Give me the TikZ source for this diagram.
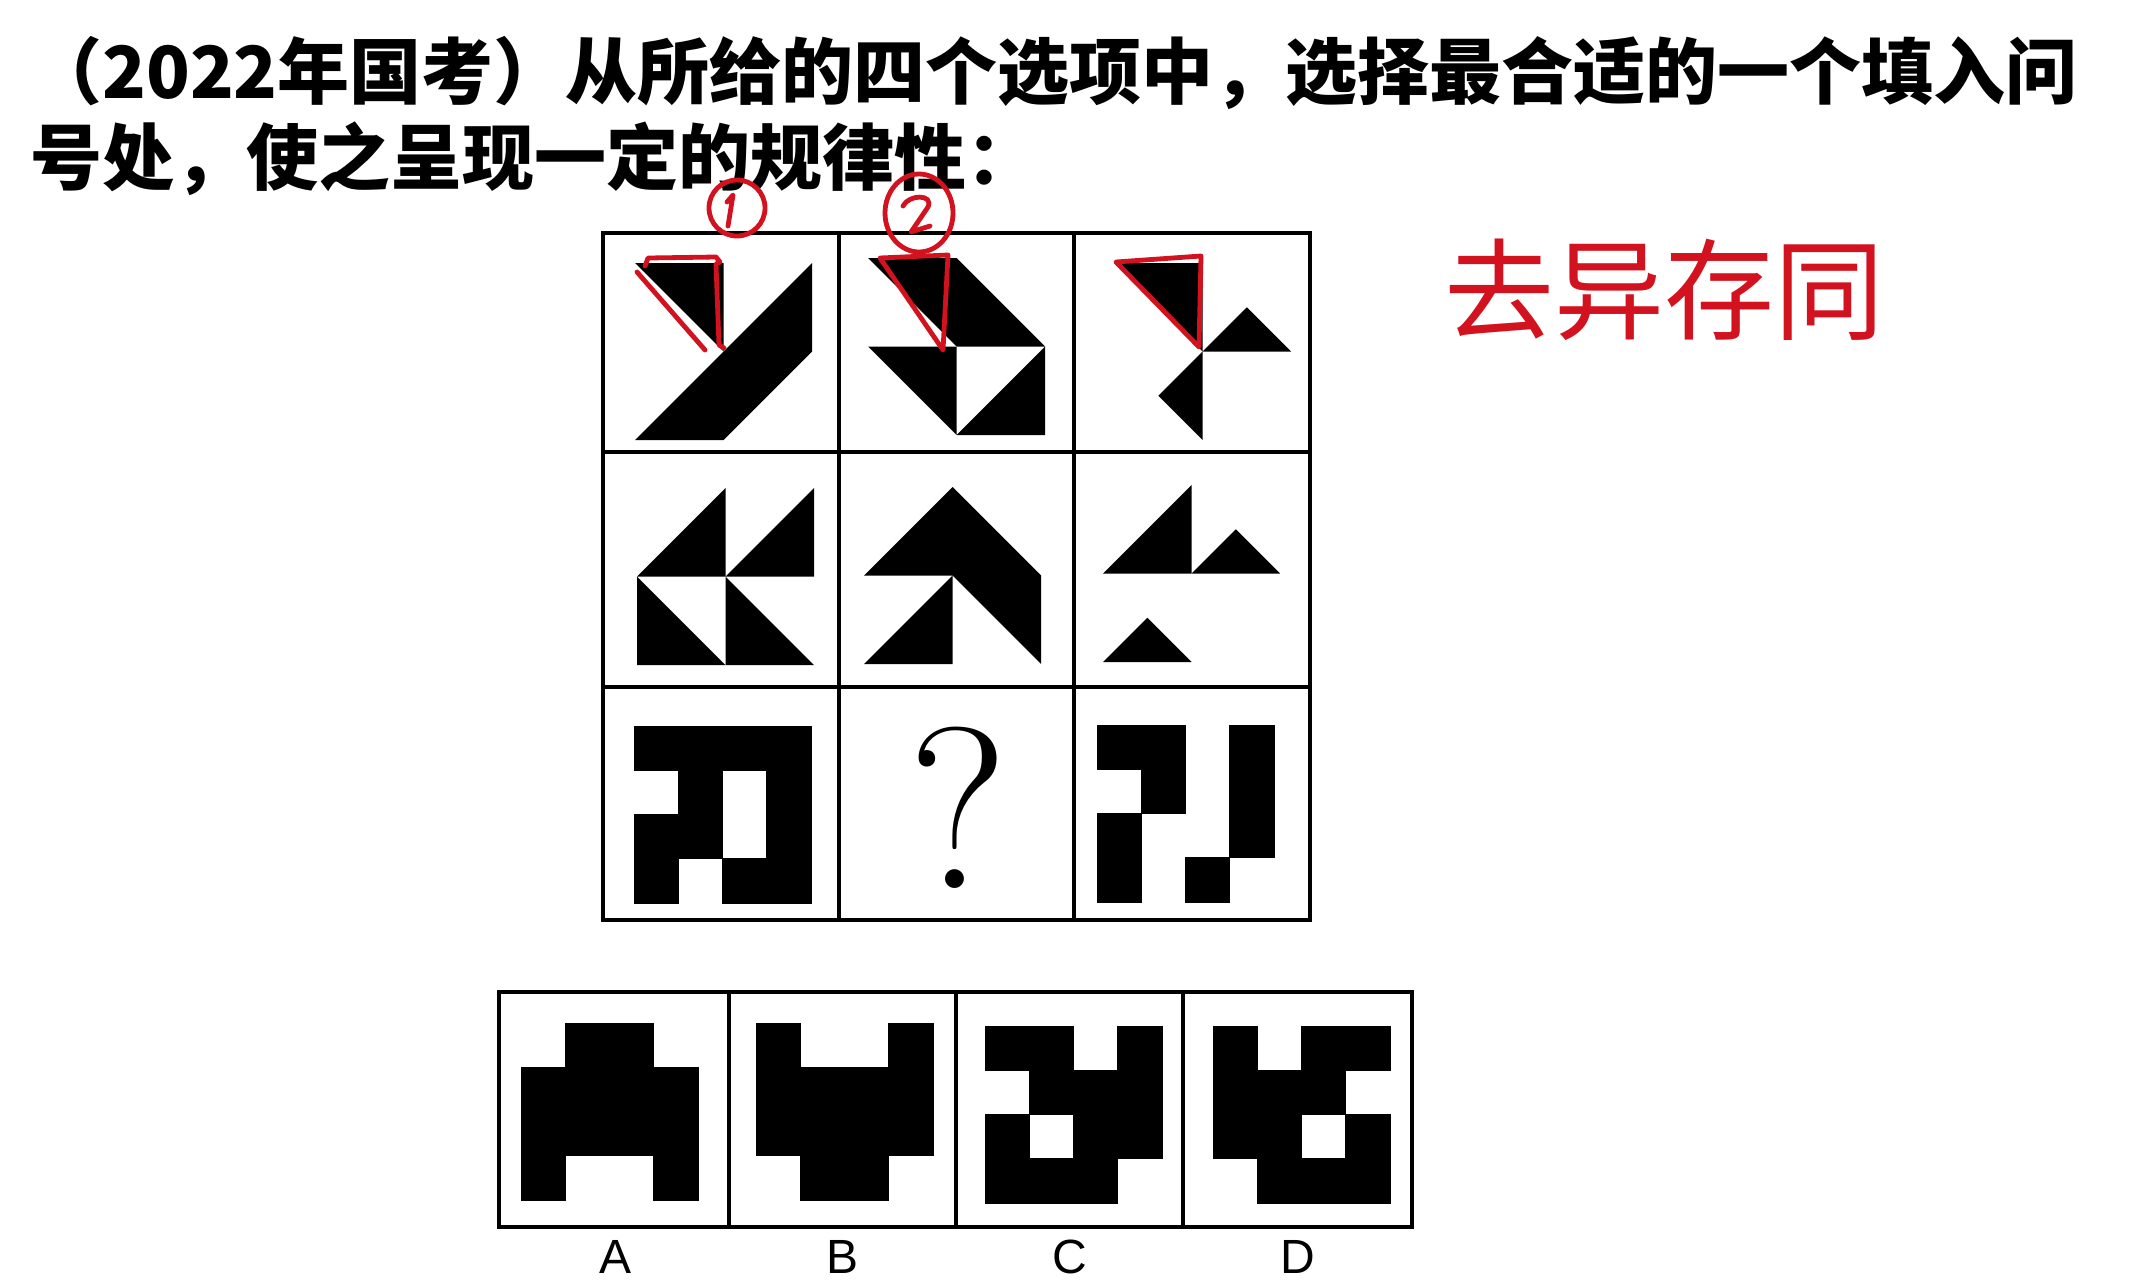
\documentclass[tikz,border=0pt]{standalone}
\usepackage{fontspec}
\usepackage{tikz}
\usetikzlibrary{positioning}
\newfontfamily\cjk{Noto Sans CJK SC}
\newfontfamily\optfont{Liberation Sans}
\definecolor{penred}{RGB}{210,18,30}
\tikzset{
  gridline/.style={draw=black, line width=1.8pt},
  penline/.style={draw=penred, line width=2.4pt, line cap=round, line join=round},
  pix/.style={fill=black, draw=black, line width=0.4pt},
  blockat/.style={shift={#1}, x=44.25pt, y=44.25pt},
}

\begin{document}
\begin{tikzpicture}[x=0.5pt,y=-0.5pt]
  % page
  \fill[white] (0,0) rectangle (2156,1286);
  \useasboundingbox (0,0) rectangle (2156,1286);
  \clip (0,0) rectangle (2156,1286);

  % question text
  \node[anchor=base west, inner sep=0, font=\cjk\bfseries\fontsize{36}{36}\selectfont] (line1) at (30,98)
    {（2022年国考）从所给的四个选项中，选择最合适的一个填入问};
  \node[anchor=base west, inner sep=0, font=\cjk\bfseries\fontsize{36}{36}\selectfont] (line2) at (30,184)
    {号处，使之呈现一定的规律性：};

  % 3x3 grid
  \draw[gridline] (603,233) rectangle (1310,920);
  \draw[gridline] (839,233) -- (839,920);
  \draw[gridline] (1074,233) -- (1074,920);
  \draw[gridline] (603,452) -- (1310,452);
  \draw[gridline] (603,687) -- (1310,687);

  % row 1
  \begin{scope}[blockat={(635,440)}]
    \fill (0,2) -- (1,2) -- (1,1) -- cycle;
    \fill (0,0) -- (1,0) -- (2,1) -- (2,2) -- cycle;
  \end{scope}
  \begin{scope}[blockat={(868,435)}]
    \fill (0,2) -- (1,2) -- (2,1) -- (1,1) -- cycle;
    \fill (0,1) -- (1,1) -- (1,0) -- cycle;
    \fill (2,1) -- (2,0) -- (1,0) -- cycle;
  \end{scope}
  \begin{scope}[blockat={(1114,440)}]
    \fill (0,2) -- (1,2) -- (1,1) -- cycle;
    \fill (1,1) -- (1.5,1.5) -- (2,1) -- cycle;
    \fill (1,1) -- (0.5,0.5) -- (1,0) -- cycle;
  \end{scope}

  % row 2
  \begin{scope}[blockat={(637,665)}]
    \fill (0,1) -- (1,2) -- (1,1) -- cycle;
    \fill (1,1) -- (2,2) -- (2,1) -- cycle;
    \fill (0,1) -- (0,0) -- (1,0) -- cycle;
    \fill (1,1) -- (1,0) -- (2,0) -- cycle;
  \end{scope}
  \begin{scope}[blockat={(864,664)}]
    \fill (0,1) -- (1,2) -- (2,1) -- (2,0) -- (1,1) -- cycle;
    \fill (0,0) -- (1,0) -- (1,1) -- cycle;
  \end{scope}
  \begin{scope}[blockat={(1103,662)}]
    \fill (0,1) -- (1,2) -- (1,1) -- cycle;
    \fill (1,1) -- (1.5,1.5) -- (2,1) -- cycle;
    \fill (0,0) -- (0.5,0.5) -- (1,0) -- cycle;
  \end{scope}

  % row 3
  \begin{scope}[blockat={(634,903)}]
    \foreach \r/\cols in {0/{0,1,2,3},1/{1,3},2/{0,1,3},3/{0,2,3}}
      \foreach \c in \cols \filldraw[pix] (\c/2,1.5-\r/2) rectangle ++(0.5,0.5);
  \end{scope}
  \node[font=\fontsize{115}{115}\selectfont] (qmark) at (958,808) {?};
  \begin{scope}[blockat={(1097,902)}]
    \foreach \r/\cols in {0/{0,1,3},1/{1,3},2/{0,3},3/{0,2}}
      \foreach \c in \cols \filldraw[pix] (\c/2,1.5-\r/2) rectangle ++(0.5,0.5);
  \end{scope}

  % options
  \draw[gridline] (499,992) rectangle (1412,1227);
  \draw[gridline] (729,992) -- (729,1227);
  \draw[gridline] (956,992) -- (956,1227);
  \draw[gridline] (1183,992) -- (1183,1227);

  \begin{scope}[blockat={(521,1200)}]
    \foreach \r/\cols in {0/{1,2},1/{0,1,2,3},2/{0,1,2,3},3/{0,3}}
      \foreach \c in \cols \filldraw[pix] (\c/2,1.5-\r/2) rectangle ++(0.5,0.5);
  \end{scope}
  \begin{scope}[blockat={(756,1200)}]
    \foreach \r/\cols in {0/{0,3},1/{0,1,2,3},2/{0,1,2,3},3/{1,2}}
      \foreach \c in \cols \filldraw[pix] (\c/2,1.5-\r/2) rectangle ++(0.5,0.5);
  \end{scope}
  \begin{scope}[blockat={(985,1203)}]
    \foreach \r/\cols in {0/{0,1,3},1/{1,2,3},2/{0,2,3},3/{0,1,2}}
      \foreach \c in \cols \filldraw[pix] (\c/2,1.5-\r/2) rectangle ++(0.5,0.5);
  \end{scope}
  \begin{scope}[blockat={(1213,1203)}]
    \foreach \r/\cols in {0/{0,2,3},1/{0,1,2},2/{0,1,3},3/{1,2,3}}
      \foreach \c in \cols \filldraw[pix] (\c/2,1.5-\r/2) rectangle ++(0.5,0.5);
  \end{scope}

  \foreach \l/\x in {A/615,B/842,C/1070,D/1298}
    \node[anchor=base, inner sep=0, font=\optfont\fontsize{24}{24}\selectfont] (opt\l) at (\x,1273) {\l};

  % red marks
  \draw[penline] (737,208) ellipse [x radius=28, y radius=28];
  \draw[penline] (727,202) -- (733,195) -- (728,226);
  \draw[penline] (919,213) ellipse [x radius=34, y radius=39];
  \draw[penline] (903,206) .. controls (909,194) and (934,194) .. (928,207) -- (911,232) -- (930,226);

  \draw[penline] (645,266) -- (648,258) -- (716,257) -- (720,262) -- (716,264) -- (719,345) -- (724,348);
  \draw[penline] (637,272) -- (705,350);
  \draw[penline] (880,258) -- (948,255) -- (943,350) -- cycle;
  \draw[penline] (1116,262) -- (1201,256) -- (1199,347) -- cycle;

  \node[text=penred, font=\cjk\fontsize{55}{55}\selectfont] (note) at (1664,290) {去异存同};
\end{tikzpicture}
\end{document}
